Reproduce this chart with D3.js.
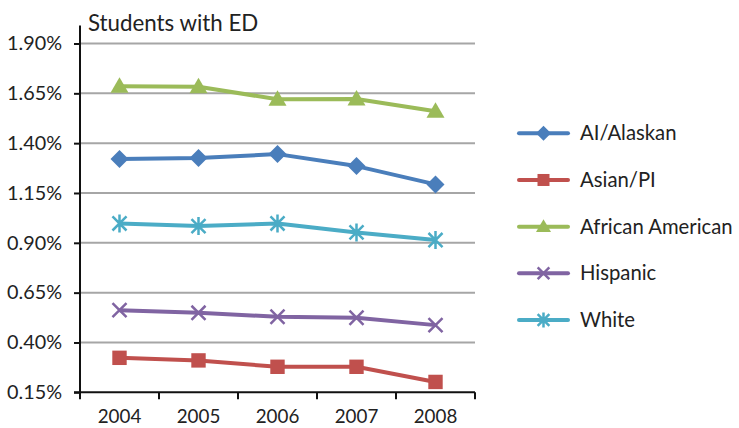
<!DOCTYPE html>
<html><head><meta charset="utf-8">
<script src="https://cdn.jsdelivr.net/npm/d3@7"></script>
<style>body{margin:0;background:#fff;}svg{display:block;font-family:Lato,"Open Sans",sans-serif;}</style>
</head><body><svg id="c" width="739" height="428"></svg>
<script>
const years = ["2004","2005","2006","2007","2008"];
const aiAlaskan = [1.32, 1.325, 1.345, 1.285, 1.193];
const asianPI = [0.323, 0.31, 0.278, 0.278, 0.202];
const africanAmerican = [1.685, 1.683, 1.62, 1.622, 1.56];
const hispanic = [0.562, 0.549, 0.529, 0.524, 0.487];
const white = [0.997, 0.984, 0.997, 0.952, 0.914];
const yTicks = [0.15, 0.40, 0.65, 0.90, 1.15, 1.40, 1.65, 1.90];
const seriesNames = ["AI/Alaskan","Asian/PI","African American","Hispanic","White"];
const seriesColors = ["#4a7ebb","#c0504d","#9bbb59","#8064a2","#4bacc6"];
const seriesMarkers = ["diamond","square","triangle","x","asterisk"];
const seriesValues = [aiAlaskan, asianPI, africanAmerican, hispanic, white];

const svg = d3.select("#c");
const L = 80, R = 475, T = 43.5, B = 392.3;
const x = d3.scaleBand().domain(years).range([L, R]);
const y = d3.scaleLinear().domain([0.15, 1.90]).range([B, T]);

// gridlines
svg.append("g").selectAll("line").data(yTicks.slice(1)).join("line")
  .attr("x1", L).attr("x2", R).attr("y1", d => y(d)).attr("y2", d => y(d))
  .attr("stroke", "#a6a6a6").attr("stroke-width", 2);

// y axis
const yAxis = d3.axisLeft(y).tickValues(yTicks).tickFormat(d => d.toFixed(2) + "%").tickSize(6).tickPadding(12);
const gy = svg.append("g").attr("transform", `translate(${L},0)`).call(yAxis);
gy.select(".domain").attr("d", `M-6,${B}H0V${T-18}`).attr("stroke", "#111").attr("stroke-width", 2);
gy.selectAll(".tick line").attr("stroke", "#111").attr("stroke-width", 2);
gy.selectAll("text").attr("font-size", 19.8).attr("fill", "#222").attr("font-family", "Lato, sans-serif");

// x axis
const xAxis = d3.axisBottom(x).tickSize(0).tickPadding(17);
const gx = svg.append("g").attr("transform", `translate(0,${B})`).call(xAxis);
gx.select(".domain").attr("stroke", "#111").attr("stroke-width", 2).attr("d", `M${L},0H${R}`);
gx.selectAll("text").attr("font-size", 18.8).attr("fill", "#222").attr("font-family", "Lato, sans-serif");
// boundary ticks between categories
const bounds = years.map(yr => x(yr)).concat([R]);
svg.append("g").selectAll("line").data(bounds).join("line")
  .attr("x1", d => d).attr("x2", d => d).attr("y1", B).attr("y2", B + 7)
  .attr("stroke", "#111").attr("stroke-width", 2);

// title
svg.append("text").attr("x", 88).attr("y", 31).attr("font-size", 22.3).attr("fill", "#222").text("Students with ED");

function marker(g, type, color, size) {
  const s = size;
  if (type === "diamond") {
    g.append("path").attr("d", `M0,${-s}L${s},0L0,${s}L${-s},0Z`).attr("fill", color);
  } else if (type === "square") {
    g.append("rect").attr("x", -s*0.8).attr("y", -s*0.8).attr("width", s*1.6).attr("height", s*1.6).attr("fill", color);
  } else if (type === "triangle") {
    g.append("path").attr("d", `M0,${-s}L${s},${s*0.72}L${-s},${s*0.72}Z`).attr("fill", color);
  } else if (type === "x") {
    const a = s*0.78;
    g.append("path").attr("d", `M${-a},${-a}L${a},${a}M${-a},${a}L${a},${-a}`).attr("stroke", color).attr("stroke-width", 2.5).attr("fill", "none");
  } else if (type === "asterisk") {
    const a = s*0.78;
    g.append("path").attr("d", `M${-a},${-a}L${a},${a}M${-a},${a}L${a},${-a}M0,${-s}V${s}`).attr("stroke", color).attr("stroke-width", 2.5).attr("fill", "none");
  }
}

const line = d3.line().x((d, i) => x(years[i]) + x.bandwidth() / 2).y(d => y(d));
seriesValues.forEach((vals, si) => {
  svg.append("path").attr("d", line(vals)).attr("fill", "none")
    .attr("stroke", seriesColors[si]).attr("stroke-width", 4).attr("stroke-linejoin", "round");
  vals.forEach((v, i) => {
    const g = svg.append("g").attr("transform", `translate(${x(years[i]) + x.bandwidth() / 2},${y(v)})`);
    marker(g, seriesMarkers[si], seriesColors[si], 9);
  });
});

// legend
const legY = d3.scalePoint().domain(seriesNames).range([133.3, 320]);
seriesNames.forEach((n, si) => {
  const yy = legY(n);
  svg.append("line").attr("x1", 519).attr("x2", 568).attr("y1", yy).attr("y2", yy)
    .attr("stroke", seriesColors[si]).attr("stroke-width", 4).attr("stroke-linecap", "round");
  const g = svg.append("g").attr("transform", `translate(543.5,${yy})`);
  marker(g, seriesMarkers[si], seriesColors[si], 7.5);
  svg.append("text").attr("x", 580).attr("y", yy).attr("dy", "0.35em").attr("font-size", 20.3).attr("fill", "#222").text(n);
});
</script></body></html>
